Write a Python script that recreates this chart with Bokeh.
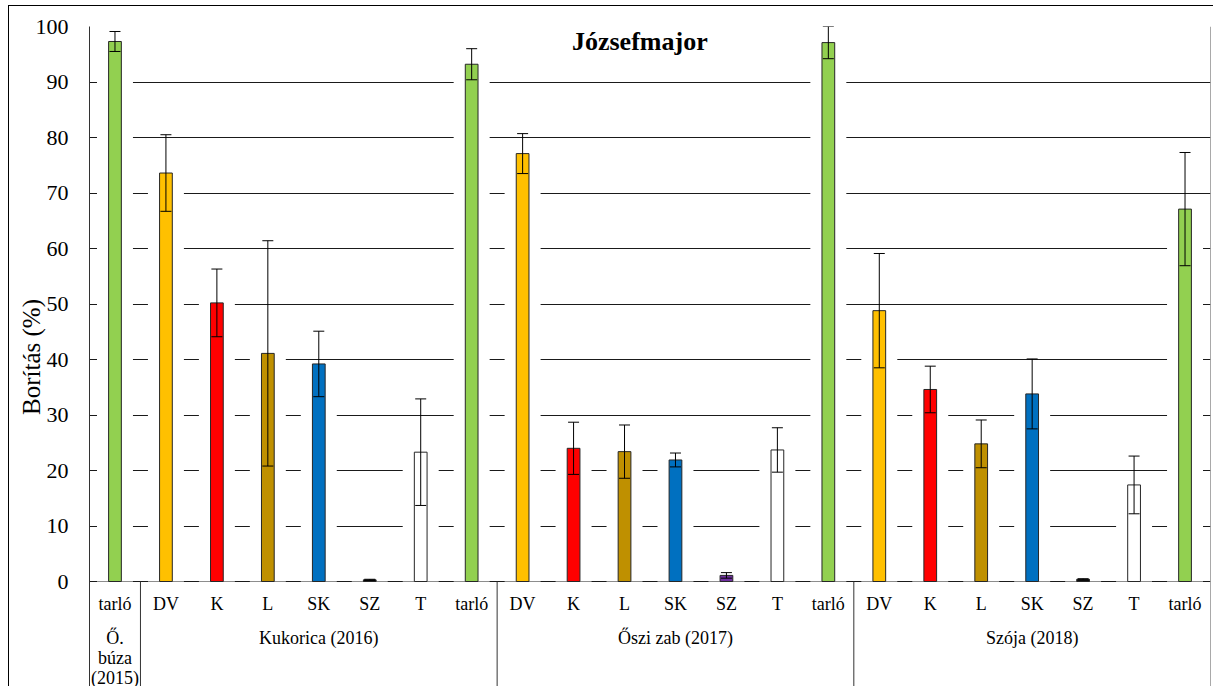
from bokeh.plotting import figure
from bokeh.models import ColumnDataSource, FactorRange, Range1d, FixedTicker, Whisker, TeeHead, Label, Span
from bokeh.core.properties import value
from bokeh.embed import file_html
from bokeh.resources import INLINE

# ---------------- data ----------------
groups = ["Ő. búza (2015)", "Kukorica (2016)", "Őszi zab (2017)", "Szója (2018)"]
group_labels = ["Ő.\nbúza\n(2015)", "Kukorica (2016)", "Őszi zab (2017)", "Szója (2018)"]
treatments = [
    ["tarló"],
    ["DV", "K", "L", "SK", "SZ", "T", "tarló"],
    ["DV", "K", "L", "SK", "SZ", "T", "tarló"],
    ["DV", "K", "L", "SK", "SZ", "T", "tarló"],
]
means = [97.3,
         73.6, 50.2, 41.1, 39.2, 0.3, 23.3, 93.2,
         77.1, 24.0, 23.4, 21.9, 1.1, 23.7, 97.1,
         48.8, 34.6, 24.8, 33.8, 0.4, 17.4, 67.1]
errors = [1.8,
          6.9, 6.1, 20.3, 5.9, 0.1, 9.6, 2.8,
          3.6, 4.7, 4.8, 1.25, 0.5, 4.0, 2.9,
          10.3, 4.2, 4.3, 6.3, 0.1, 5.2, 10.2]
y_ticks = [0, 10, 20, 30, 40, 50, 60, 70, 80, 90, 100]
y_title = "Borítás (%)"
chart_title = "Józsefmajor"

# ---------------- styles ----------------
treatment_colors = {"tarló": "#92D050", "DV": "#FFC000", "K": "#FF0000", "L": "#BF9000",
                    "SK": "#0070C0", "SZ": "#111111", "T": "#FFFFFF"}
group_sz_colors = {"Őszi zab (2017)": "#7030A0"}
FONT = "Liberation Serif"

factors, cats, colors = [], [], []
for g, ts in zip(groups, treatments):
    for t in ts:
        factors.append((g, t))
        cats.append(t)
        c = treatment_colors[t]
        if t == "SZ" and g in group_sz_colors:
            c = group_sz_colors[g]
        colors.append(c)

src = ColumnDataSource(dict(
    x=factors, cat=cats, mean=means, color=colors,
    upper=[m + e for m, e in zip(means, errors)],
    lower=[m - e for m, e in zip(means, errors)],
))

px_per_unit = 5.55
y_min = -106 / px_per_unit  # room below zero for the category labels

p = figure(width=1205, height=681,
           x_range=FactorRange(*factors, factor_padding=0, group_padding=0,
                               subgroup_padding=0, range_padding=0),
           y_range=Range1d(y_min, 100),
           output_backend="svg", toolbar_location=None,
           x_axis_location=None,
           min_border_left=80, min_border_right=4, min_border_top=20, min_border_bottom=0)
p.styles = {"border-top": "1px solid black", "border-left": "1px solid black",
            "margin-left": "8px", "margin-top": "5px"}
p.outline_line_color = None
p.background_fill_color = "white"

# y axis
p.yaxis.ticker = FixedTicker(ticks=y_ticks)
p.yaxis.major_tick_out = 0
p.yaxis.major_tick_in = 0
p.yaxis.minor_tick_out = 0
p.yaxis.minor_tick_in = 0
p.yaxis.major_label_standoff = 21
p.yaxis.major_label_text_font = FONT
p.yaxis.major_label_text_font_size = "22px"
p.yaxis.major_label_text_color = "black"
p.yaxis.axis_line_color = "#333333"
p.yaxis.axis_label = y_title
p.yaxis.axis_label_text_font = FONT
p.yaxis.axis_label_text_font_size = "25px"
p.yaxis.axis_label_text_font_style = "normal"
p.yaxis.axis_label_text_color = "black"
p.yaxis.axis_label_standoff = -12

p.xgrid.visible = False
p.ygrid.ticker = FixedTicker(ticks=y_ticks)
p.ygrid.grid_line_color = "#1a1a1a"
p.ygrid.grid_line_width = 1

n = len(factors)

# white halo behind each bar (masks the gridlines)
p.vbar(x="x", width=0.706, top="mean", bottom=0, source=src,
       fill_color="white", line_color=None)

# bars
p.vbar(x="x", width=0.25, top="mean", bottom=0, source=src,
       fill_color="color", line_color="#262626", line_width=1)

# error bars (drawn over the bars)
p.add_layout(Whisker(base="x", upper="upper", lower="lower", source=src,
                     level="overlay", line_color="black", line_width=1,
                     upper_head=TeeHead(size=11, line_color="black", line_width=1),
                     lower_head=TeeHead(size=11, line_color="black", line_width=1)))

# group separators below the baseline
bounds = []
acc = 0
for ts in treatments[:-1]:
    acc += len(ts)
    bounds.append(acc)
p.segment(x0=bounds, y0=[0] * len(bounds), x1=bounds, y1=[y_min] * len(bounds),
          line_color="#333333", line_width=1)

# right border of plot area
p.add_layout(Span(location=n, dimension="height", line_color="#555555", line_width=1))

# category labels
p.text(x="x", y=-22 / px_per_unit, text="cat", source=src,
       text_font=value(FONT), text_font_size="18px", text_color="black",
       text_align="center", text_baseline="middle")

# group labels
p.text(x=groups, y=[-46 / px_per_unit] * len(groups), text=group_labels,
       text_font=value(FONT), text_font_size="18px", text_color="black",
       text_align="center", text_baseline="top", text_line_height=1.0)

# title inside plot
p.add_layout(Label(x=10.8, y=97.3, text=chart_title, text_font=FONT,
                   text_font_size="26px", text_font_style="bold", text_color="black",
                   text_align="center", text_baseline="middle"))

open("out.html", "w").write(file_html(p, INLINE))
